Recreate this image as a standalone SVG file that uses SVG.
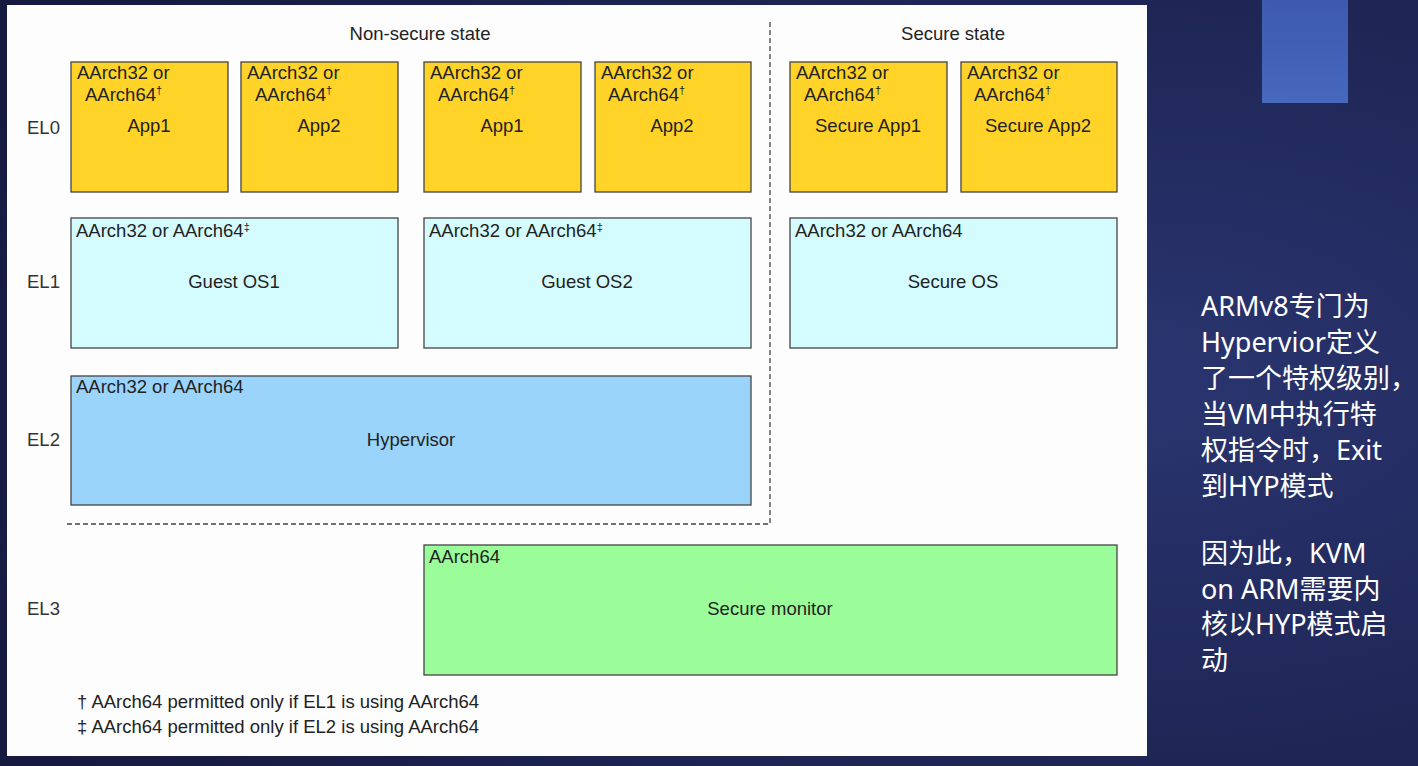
<svg xmlns="http://www.w3.org/2000/svg" width="1418" height="766" viewBox="0 0 1418 766">
<defs>
<radialGradient id="bg" cx="0.8" cy="0.5" r="0.9">
<stop offset="0" stop-color="#2a3570"/>
<stop offset="1" stop-color="#161a40"/>
</radialGradient>
<linearGradient id="sq" x1="0" y1="0" x2="0" y2="1">
<stop offset="0" stop-color="#3d5aae"/>
<stop offset="1" stop-color="#4668bd"/>
</linearGradient>
</defs>
<style>
.t{font-family:"Liberation Sans",Arial,sans-serif;font-size:18.5px;fill:#222;}
.c{text-anchor:middle;}
.sup{font-size:11px;}
.el{font-family:"Liberation Sans",Arial,sans-serif;font-size:18.5px;fill:#333;}
.app rect{fill:#FFD327;stroke:#444;stroke-width:1.3;}
.os rect{fill:#D4FCFE;stroke:#444;stroke-width:1.3;}
.hyp rect{fill:#9AD4FA;stroke:#444;stroke-width:1.3;}
.mon rect{fill:#9AFD9A;stroke:#444;stroke-width:1.3;}
.dash{stroke:#444;stroke-width:1.3;stroke-dasharray:5,3;fill:none;}
.side{font-family:"Noto Sans","Noto Sans CJK SC",sans-serif;font-size:27px;fill:#ffffff;}
</style>
<rect x="0" y="0" width="1418" height="766" fill="url(#bg)"/>
<rect x="1262" y="0" width="86" height="103" fill="url(#sq)"/>
<rect x="7" y="5" width="1140" height="751" fill="#fdfdfd"/>

<text class="t c" x="420" y="40">Non-secure state</text>
<text class="t c" x="953" y="40">Secure state</text>
<text class="el" x="27" y="134">EL0</text>
<text class="el" x="27" y="288">EL1</text>
<text class="el" x="27" y="446">EL2</text>
<text class="el" x="27" y="615">EL3</text>

<g id="ns-app1" class="app"><rect x="71" y="62" width="157" height="130"/>
<text class="t" x="77" y="79">AArch32 or</text><text class="t" x="85" y="101">AArch64<tspan class="sup" dy="-7">†</tspan></text><text class="t c" x="149" y="132">App1</text></g>
<g id="ns-app2" class="app"><rect x="241" y="62" width="157" height="130"/>
<text class="t" x="247" y="79">AArch32 or</text><text class="t" x="255" y="101">AArch64<tspan class="sup" dy="-7">†</tspan></text><text class="t c" x="319" y="132">App2</text></g>
<g id="ns-app3" class="app"><rect x="424" y="62" width="157" height="130"/>
<text class="t" x="430" y="79">AArch32 or</text><text class="t" x="438" y="101">AArch64<tspan class="sup" dy="-7">†</tspan></text><text class="t c" x="502" y="132">App1</text></g>
<g id="ns-app4" class="app"><rect x="595" y="62" width="156" height="130"/>
<text class="t" x="601" y="79">AArch32 or</text><text class="t" x="608" y="101">AArch64<tspan class="sup" dy="-7">†</tspan></text><text class="t c" x="672" y="132">App2</text></g>
<g id="s-app1" class="app"><rect x="790" y="62" width="157" height="130"/>
<text class="t" x="796" y="79">AArch32 or</text><text class="t" x="804" y="101">AArch64<tspan class="sup" dy="-7">†</tspan></text><text class="t c" x="868" y="132">Secure App1</text></g>
<g id="s-app2" class="app"><rect x="961" y="62" width="156" height="130"/>
<text class="t" x="967" y="79">AArch32 or</text><text class="t" x="974" y="101">AArch64<tspan class="sup" dy="-7">†</tspan></text><text class="t c" x="1038" y="132">Secure App2</text></g>

<g id="guest-os1" class="os"><rect x="71" y="218" width="327" height="130"/>
<text class="t" x="76" y="237">AArch32 or AArch64<tspan class="sup" dy="-6">‡</tspan></text><text class="t c" x="234" y="288">Guest OS1</text></g>
<g id="guest-os2" class="os"><rect x="424" y="218" width="327" height="130"/>
<text class="t" x="429" y="237">AArch32 or AArch64<tspan class="sup" dy="-6">‡</tspan></text><text class="t c" x="587" y="288">Guest OS2</text></g>
<g id="secure-os" class="os"><rect x="790" y="218" width="327" height="130"/>
<text class="t" x="795" y="237">AArch32 or AArch64</text><text class="t c" x="953" y="288">Secure OS</text></g>

<g id="hypervisor" class="hyp"><rect x="71" y="376" width="680" height="129"/>
<text class="t" x="76" y="393">AArch32 or AArch64</text><text class="t c" x="411" y="446">Hypervisor</text></g>

<g id="secure-monitor" class="mon"><rect x="424" y="545" width="693" height="130"/>
<text class="t" x="429" y="563">AArch64</text><text class="t c" x="770" y="615">Secure monitor</text></g>

<g id="connectors">
<path class="dash" d="M770,22 V524 H65"/>
</g>

<text class="t" x="77" y="708">† AArch64 permitted only if EL1 is using AArch64</text>
<text class="t" x="77" y="733">‡ AArch64 permitted only if EL2 is using AArch64</text>

<g id="side-text">
<text class="side" x="1201" y="316">ARMv8专门为</text>
<text class="side" x="1201" y="352">Hypervior定义</text>
<text class="side" x="1201" y="388">了一个特权级别，</text>
<text class="side" x="1201" y="424">当VM中执行特</text>
<text class="side" x="1201" y="460">权指令时，Exit</text>
<text class="side" x="1201" y="496">到HYP模式</text>
<text class="side" x="1201" y="563">因为此，KVM</text>
<text class="side" x="1201" y="599">on ARM需要内</text>
<text class="side" x="1201" y="634">核以HYP模式启</text>
<text class="side" x="1201" y="670">动</text>
</g>
</svg>
